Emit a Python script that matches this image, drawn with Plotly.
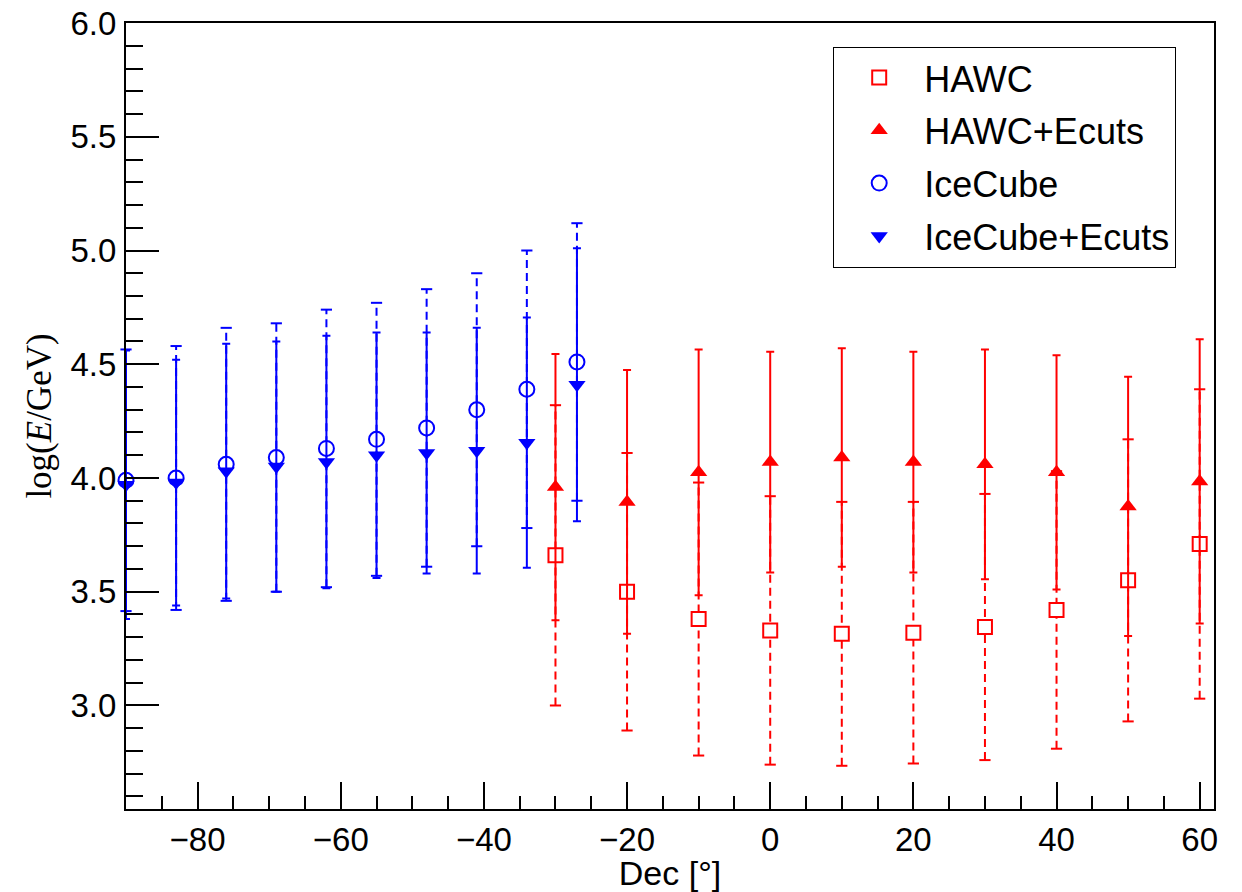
import plotly.graph_objects as go

# ---------------- data ----------------
hawc_dec = [-30, -20, -10, 0, 10, 20, 30, 40, 50, 60]
hawc = [3.66, 3.50, 3.38, 3.33, 3.315, 3.32, 3.345, 3.42, 3.55, 3.71]
hawc_err = [0.66, 0.61, 0.60, 0.59, 0.58, 0.575, 0.585, 0.61, 0.62, 0.68]
hawc_ecut = [3.96, 3.895, 4.025, 4.07, 4.09, 4.07, 4.06, 4.025, 3.875, 3.985]
hawc_ecut_err = [0.585, 0.58, 0.54, 0.485, 0.48, 0.485, 0.505, 0.515, 0.57, 0.625]

ice_dec = [-90, -83, -76, -69, -62, -55, -48, -41, -34, -27]
ice = [3.99, 4.00, 4.06, 4.09, 4.13, 4.17, 4.22, 4.30, 4.39, 4.51]
ice_err = [0.575, 0.58, 0.60, 0.59, 0.61, 0.60, 0.61, 0.60, 0.61, 0.61]
ice_ecut = [3.97, 3.98, 4.03, 4.05, 4.07, 4.10, 4.11, 4.12, 4.155, 4.41]
ice_ecut_err = [0.59, 0.54, 0.56, 0.55, 0.555, 0.54, 0.53, 0.54, 0.55, 0.60]

RED = "#ff0000"
BLUE = "#0000ff"
SANS = "Liberation Sans"

fig = go.Figure()


def dashed_errors(xs, ys, es, color):
    lx, ly, cx, cy = [], [], [], []
    for x, y, e in zip(xs, ys, es):
        lx += [x, x, None]
        ly += [y - e, y + e, None]
        cx += [x, x]
        cy += [y - e, y + e]
    fig.add_trace(go.Scatter(x=lx, y=ly, mode="lines", showlegend=False,
                             hoverinfo="skip",
                             line=dict(color=color, width=2, dash="8px,5px")))
    fig.add_trace(go.Scatter(x=cx, y=cy, mode="markers", showlegend=False,
                             hoverinfo="skip", cliponaxis=False,
                             marker=dict(symbol="line-ew", size=8,
                                         line=dict(color=color, width=2))))


def open_points(xs, ys, name, color, symbol, size, group):
    fig.add_trace(go.Scatter(x=xs, y=ys, mode="markers", name=name,
                             legendgroup=group, cliponaxis=False,
                             marker=dict(symbol=symbol, size=size, color="white",
                                         line=dict(color=color, width=2))))


def filled_points(xs, ys, es, name, color, symbol, size, group):
    fig.add_trace(go.Scatter(x=xs, y=ys, mode="markers", name=name,
                             legendgroup=group, cliponaxis=False,
                             error_y=dict(type="data", array=es, visible=True,
                                          color=color, thickness=2, width=4),
                             marker=dict(symbol=symbol, size=size, color=color,
                                         line=dict(width=0))))


dashed_errors(hawc_dec, hawc, hawc_err, RED)
open_points(hawc_dec, hawc, "HAWC", RED, "square", 14, "g1")
filled_points(hawc_dec, hawc_ecut, hawc_ecut_err, "HAWC+Ecuts", RED, "triangle-up", 15, "g2")
dashed_errors(ice_dec, ice, ice_err, BLUE)
open_points(ice_dec, ice, "IceCube", BLUE, "circle", 15, "g3")
filled_points(ice_dec, ice_ecut, ice_ecut_err, "IceCube+Ecuts", BLUE, "triangle-down", 15, "g4")

fig.update_layout(
    width=1242, height=892,
    margin=dict(l=126, r=28, t=23, b=83, autoexpand=False),
    paper_bgcolor="white", plot_bgcolor="white",
    font=dict(family=SANS, size=33, color="black"),
    legend=dict(x=0.65, y=0.970, xanchor="left", yanchor="top",
                bordercolor="black", borderwidth=1, bgcolor="white",
                font=dict(family=SANS, size=36, color="black"),
                traceorder="grouped", tracegroupgap=3, itemwidth=80,
                itemsizing="trace", entrywidth=262, entrywidthmode="pixels"),
    showlegend=True,
)

fig.update_xaxes(
    range=[-90, 62], showgrid=False, zeroline=False, automargin=False,
    showline=True, linecolor="black", linewidth=2, mirror=True,
    ticks="inside", ticklen=27, tickwidth=2, tickcolor="black",
    dtick=20, tick0=0,
    minor=dict(ticks="inside", ticklen=13, tickwidth=2, tickcolor="black", dtick=5),
    tickfont=dict(family=SANS, size=33, color="black"),
    title=dict(text="Dec [°]", font=dict(family=SANS, size=34, color="black"), standoff=0),
)
fig.update_yaxes(
    range=[2.545, 6.0], showgrid=False, zeroline=False, automargin=False,
    showline=True, linecolor="black", linewidth=2, mirror=True,
    ticks="inside", ticklen=33, tickwidth=2, tickcolor="black",
    dtick=0.5, tick0=0, tickformat=".1f",
    minor=dict(ticks="inside", ticklen=17, tickwidth=2, tickcolor="black", dtick=0.1),
    tickfont=dict(family=SANS, size=33, color="black"),
    ticklabelstandoff=1,
    title=dict(text="log(<i>E</i>/GeV)", font=dict(family="Liberation Serif", size=35, color="black"),
               standoff=8),
)

fig.write_html("out.html")
